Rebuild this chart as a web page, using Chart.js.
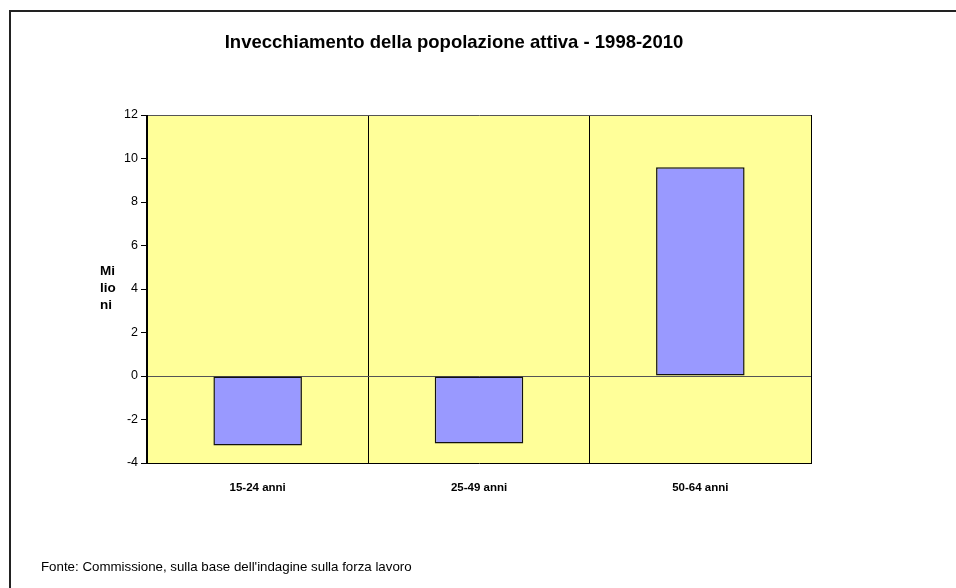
<!DOCTYPE html>
<html>
<head>
<meta charset="utf-8">
<script src="https://cdn.jsdelivr.net/npm/chart.js@4.4.1/dist/chart.umd.min.js"></script>
<style>
    html, body { margin: 0; padding: 0; background: #fff; overflow: hidden; }
    #wrap { position: relative; width: 956px; height: 588px; }
    #cornice { position: absolute; left: 9px; top: 10px; width: 2000px; height: 2000px; border: 2px solid #222; box-sizing: border-box; }
    canvas { position: absolute; left: 0; top: 0; }
</style>
</head>
<body>
<div id="wrap">
    <div id="cornice"></div>
    <canvas id="grafico" width="956" height="588"></canvas>
</div>
<script>
const categorie = ['15-24 anni', '25-49 anni', '50-64 anni'];
const valori = [-3.2, -3.1, 9.6];
const titolo = 'Invecchiamento della popolazione attiva - 1998-2010';
const etichettaY = ['Mi', 'lio', 'ni'];
const fonte = "Fonte: Commissione, sulla base dell'indagine sulla forza lavoro";

const FONT = '"Liberation Sans", Arial, sans-serif';

// sfondo giallo dell'area del grafico + testi fissi
const decorazioni = {
    id: 'decorazioni',
    beforeDraw(chart) {
        const { ctx, chartArea: a } = chart;
        ctx.save();
        ctx.fillStyle = '#FFFF99';
        ctx.fillRect(a.left, a.top, a.right - a.left, a.bottom - a.top);
        ctx.restore();
    },
    afterDraw(chart) {
        const { ctx } = chart;
        ctx.save();
        ctx.fillStyle = '#000';
        ctx.textBaseline = 'middle';
        ctx.textAlign = 'center';
        ctx.font = 'bold 18.5px ' + FONT;
        ctx.fillText(titolo, 454, 43);

        ctx.textAlign = 'left';
        ctx.font = 'bold 13.5px ' + FONT;
        etichettaY.forEach((t, i) => ctx.fillText(t, 100, 271 + i * 17));

        ctx.font = '13.3px ' + FONT;
        ctx.fillText(fonte, 41, 567);
        ctx.restore();
    }
};

new Chart(document.getElementById('grafico'), {
    type: 'bar',
    data: {
        labels: categorie,
        datasets: [{
            data: valori,
            backgroundColor: '#9999FF',
            borderColor: '#111',
            borderWidth: 1.5,
            borderSkipped: false,
            categoryPercentage: 1,
            barPercentage: 0.4
        }]
    },
    options: {
        responsive: false,
        animation: false,
        layout: { padding: { top: 115, right: 145, bottom: 0, left: 0 } },
        plugins: {
            legend: { display: false },
            tooltip: { enabled: false }
        },
        scales: {
            x: {
                afterFit: s => { s.height = 125; },
                grid: { offset: true, color: '#000', lineWidth: 1, drawTicks: false },
                border: { color: '#000', width: 1 },
                ticks: { color: '#000', padding: 18, font: { family: FONT, size: 11.5, weight: 'bold' } }
            },
            y: {
                min: -4,
                max: 12,
                afterFit: s => { s.width = 147; },
                ticks: { stepSize: 2, color: '#000', padding: 3, font: { family: FONT, size: 12.5 } },
                grid: {
                    color: c => (c.tick && (c.tick.value === 0 || c.tick.value === 12)) ? '#555' : 'rgba(0,0,0,0)',
                    tickColor: '#000',
                    tickLength: 6,
                    lineWidth: 1
                },
                border: { color: '#000', width: 1 }
            }
        }
    },
    plugins: [decorazioni]
});
</script>
</body>
</html>
